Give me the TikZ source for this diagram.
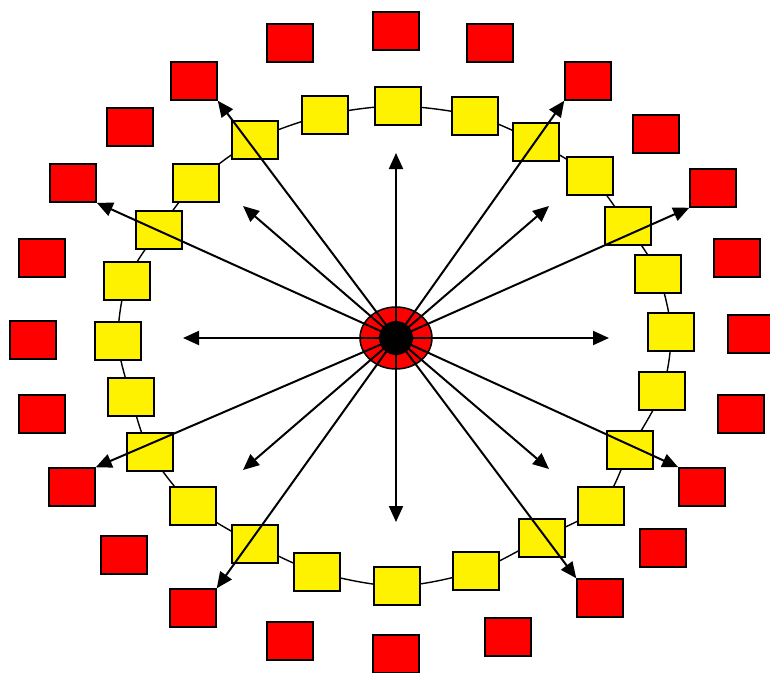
\documentclass[tikz,border=0pt]{standalone}
\usetikzlibrary{arrows.meta,shapes.geometric}
\begin{document}
\begin{tikzpicture}[x=1pt,y=-1pt,
  redbox/.style={draw=black,fill=red,line width=1.5pt,minimum width=46pt,minimum height=38pt,inner sep=0pt},
  yelbox/.style={draw=black,fill=yellow,line width=1.5pt,minimum width=46pt,minimum height=38pt,inner sep=0pt},
  ring/.style={draw=black,line width=1.4pt},
  ray/.style={draw=black,line width=2pt,-{Triangle[length=16pt,width=14pt]}}]
\useasboundingbox (0,0) rectangle (770,672);
% ring through yellow boxes
\coordinate (p1) at (398,106);
\coordinate (p2) at (475,116);
\coordinate (p3) at (536,142);
\coordinate (p4) at (590,176);
\coordinate (p5) at (628,226);
\coordinate (p6) at (658,274);
\coordinate (p7) at (671,332);
\coordinate (p8) at (662,391);
\coordinate (p9) at (630,450);
\coordinate (p10) at (601,506);
\coordinate (p11) at (542,538);
\coordinate (p12) at (476,571);
\coordinate (p13) at (397,586);
\coordinate (p14) at (317,572);
\coordinate (p15) at (255,544);
\coordinate (p16) at (193,506);
\coordinate (p17) at (150,452);
\coordinate (p18) at (131,397);
\coordinate (p19) at (118,341);
\coordinate (p20) at (127,281);
\coordinate (p21) at (159,230);
\coordinate (p22) at (196,183);
\coordinate (p23) at (255,140);
\coordinate (p24) at (325,115);
\draw[ring] plot[smooth cycle, tension=0.5] coordinates {(p1) (p2) (p3) (p4) (p5) (p6) (p7) (p8) (p9) (p10) (p11) (p12) (p13) (p14) (p15) (p16) (p17) (p18) (p19) (p20) (p21) (p22) (p23) (p24)};
% yellow boxes
\foreach \i in {1,...,24} { \node[yelbox] (y\i) at (p\i) {}; }
% red boxes
\node[redbox] (r1) at (396,31) {};
\node[redbox] (r2) at (490,43) {};
\node[redbox] (r3) at (588,81) {};
\node[redbox] (r4) at (656,134) {};
\node[redbox] (r5) at (713,188) {};
\node[redbox] (r6) at (737,258) {};
\node[redbox] (r7) at (751,334) {};
\node[redbox] (r8) at (741,414) {};
\node[redbox] (r9) at (702,487) {};
\node[redbox] (r10) at (663,548) {};
\node[redbox] (r11) at (600,598) {};
\node[redbox] (r12) at (508,637) {};
\node[redbox] (r13) at (396,654) {};
\node[redbox] (r14) at (290,641) {};
\node[redbox] (r15) at (193,608) {};
\node[redbox] (r16) at (124,555) {};
\node[redbox] (r17) at (72,487) {};
\node[redbox] (r18) at (42,414) {};
\node[redbox] (r19) at (33,340) {};
\node[redbox] (r20) at (42,258) {};
\node[redbox] (r21) at (73,183) {};
\node[redbox] (r22) at (130,127) {};
\node[redbox] (r23) at (194,81) {};
\node[redbox] (r24) at (290,43) {};
% centre
\node[draw=black,fill=red,line width=1.5pt,ellipse,minimum width=72pt,minimum height=62pt,inner sep=0pt] (hub) at (396,338) {};
\coordinate (c) at (396,338);
% free ends of short arrows
\coordinate (eN) at (396,153);
\coordinate (eS) at (396,522);
\coordinate (eW) at (183,338);
\coordinate (eE) at (609,338);
\coordinate (eNW) at (243,206);
\coordinate (eNE) at (549,206);
\coordinate (eSW) at (243,470);
\coordinate (eSE) at (549,469);
\foreach \t in {eN,eS,eW,eE,eNW,eNE,eSW,eSE} { \draw[ray] (c) -- (\t); }
\draw[ray] (c) -- (r23.south east);
\draw[ray] (c) -- (r3.south west);
\draw[ray] (c) -- (r21.south east);
\draw[ray] (c) -- (r5.south west);
\draw[ray] (c) -- (r17.north east);
\draw[ray] (c) -- (r9.north west);
\draw[ray] (c) -- (r15.north east);
\draw[ray] (c) -- (r11.north west);
\fill[black] (c) circle (17pt);
\end{tikzpicture}
\end{document}
